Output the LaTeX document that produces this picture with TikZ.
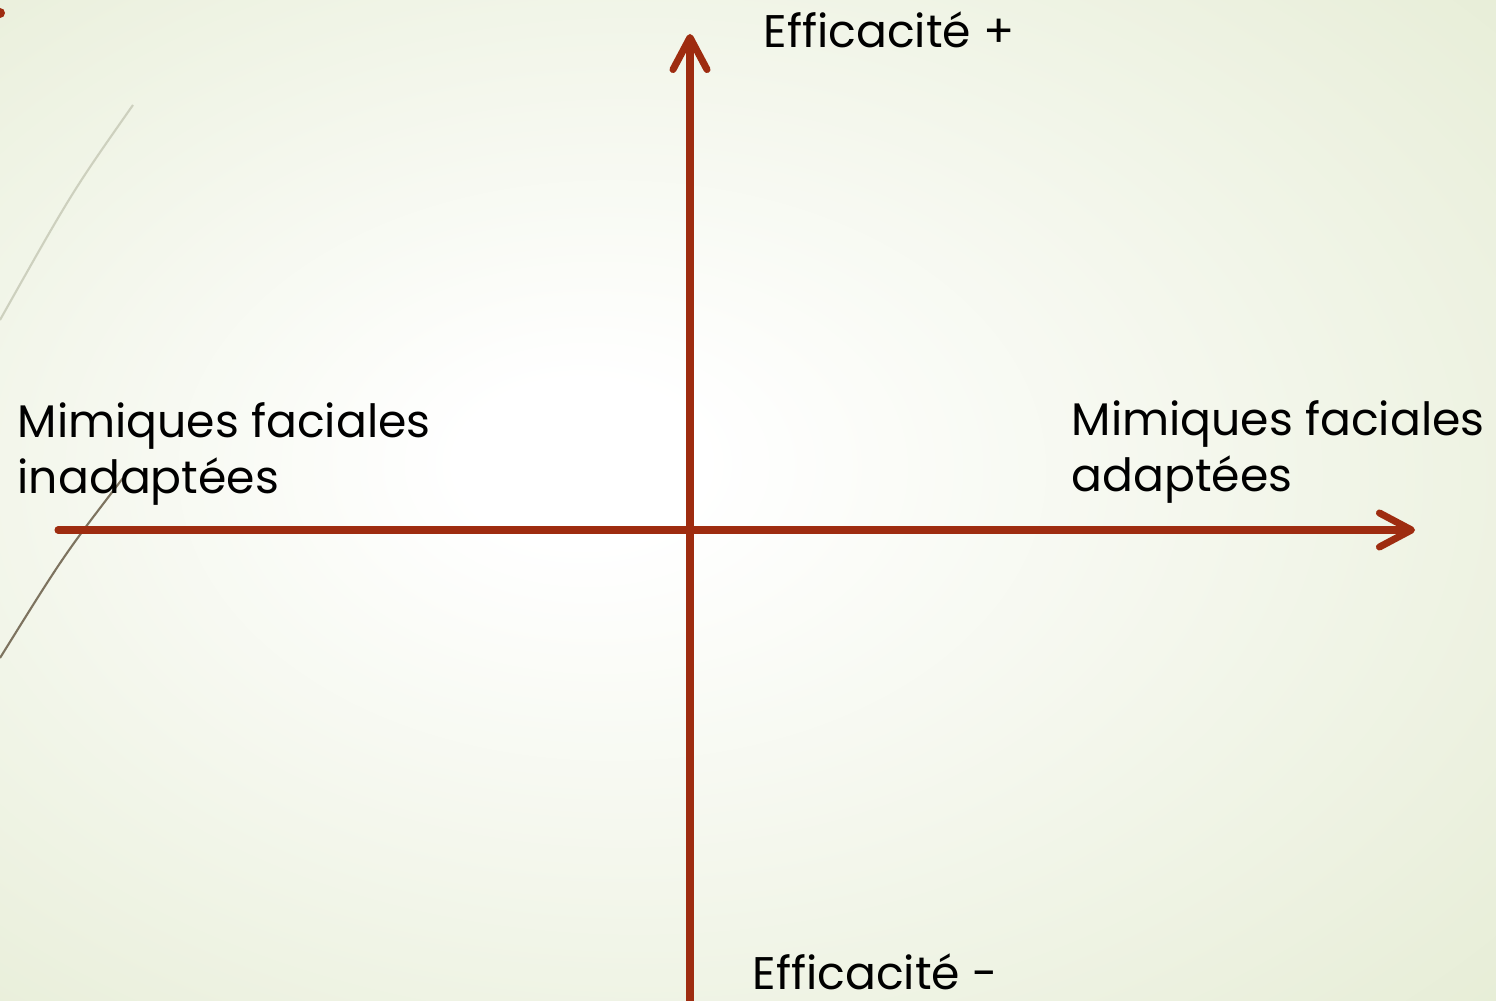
\documentclass[tikz,border=0pt]{standalone}
\usepackage{fontspec}
\setmainfont{Poppins}
\usetikzlibrary{arrows.meta}

\definecolor{axisred}{RGB}{158,44,16}
\definecolor{bggreen}{RGB}{225,233,205}
\definecolor{wisp}{RGB}{125,115,95}
\definecolor{wisplight}{RGB}{205,208,190}
\pgfdeclareradialshading{slidebg}{\pgfpoint{-6bp}{2bp}}{color(0bp)=(white); color(4bp)=(white); color(46bp)=(bggreen); color(60bp)=(bggreen)}

\begin{document}
\begin{tikzpicture}[x = 0.01cm, y = -0.01cm,
    every node/.style = { inner sep = 0pt, anchor = base west, align = left, text = black, font = \fontsize{13pt}{16.2pt}\selectfont },
    axis/.style = { draw = axisred, line width = 2pt, line cap = round, -{Straight Barb[length = 3.2mm, width = 3.4mm, round]} },
    wispline/.style = { draw = wisp, line width = 0.6pt }]
  \clip (0,0) rectangle (1496,1001);
  \shade[shading = slidebg] (0,0) rectangle (1496,1001);

  % decoration on the left edge
  \fill[axisred] (0,13) circle (0.05cm);
  \draw[wispline, draw = wisplight] (133,105) .. controls (72,192) .. (0,320);
  \draw[wispline] (123,478) .. controls (64,555) .. (0,658);

  % axes
  \coordinate (vb) at (690,1010);
  \coordinate (vt) at (690,34);
  \coordinate (hl) at (58,530);
  \coordinate (hr) at (1415,530);
  \draw[axis] (vb) -- (vt);
  \draw[axis] (hl) -- (hr);

  % labels
  \node (plus) at (763,48) { Efficacité + };
  \node (minus) at (752,990) { Efficacité - };
  \node (bad) at (17,494) { Mimiques faciales\\inadaptées };
  \node (good) at (1071,492) { Mimiques faciales\\adaptées };
\end{tikzpicture}
\end{document}
